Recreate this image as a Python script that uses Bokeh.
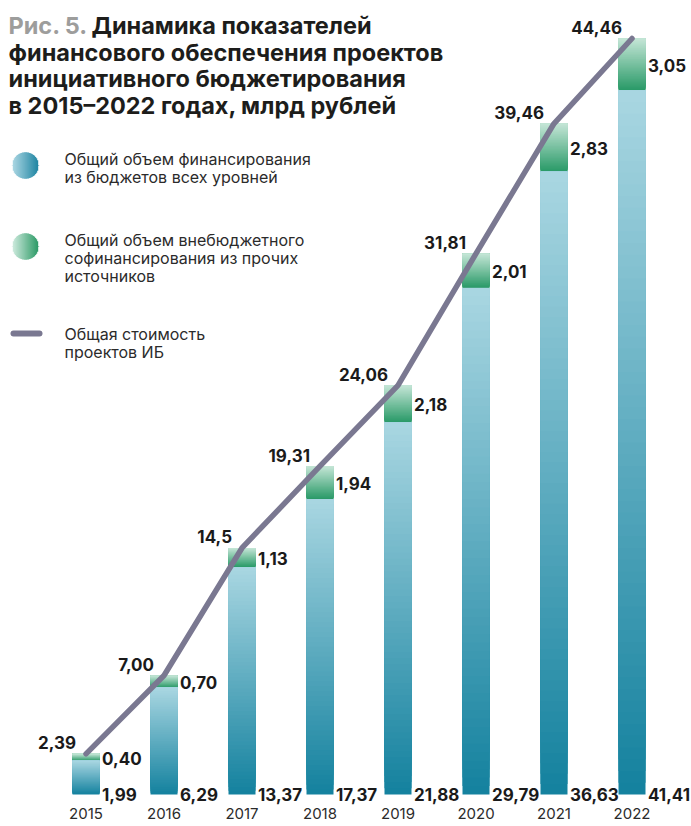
from bokeh.plotting import figure
from bokeh.models import Label, Range1d, ColumnDataSource
from bokeh.embed import file_html
from bokeh.resources import INLINE
from bokeh.core.properties import value
import math

# ---------------- data ----------------
years = ["2015", "2016", "2017", "2018", "2019", "2020", "2021", "2022"]
budget = [1.99, 6.29, 13.37, 17.37, 21.88, 29.79, 36.63, 41.41]
extra = [0.40, 0.70, 1.13, 1.94, 2.18, 2.01, 2.83, 3.05]
total = [2.39, 7.00, 14.5, 19.31, 24.06, 31.81, 39.46, 44.46]
total_labels = ["2,39", "7,00", "14,5", "19,31", "24,06", "31,81", "39,46", "44,46"]

legend_texts = [
    ["Общий объем финансирования", "из бюджетов всех уровней"],
    ["Общий объем внебюджетного", "софинансирования из прочих", "источников"],
    ["Общая стоимость", "проектов ИБ"],
]
title_prefix = "Рис. 5."
title_lines = ["Динамика показателей", "финансового обеспечения проектов",
               "инициативного бюджетирования", "в 2015–2022 годах, млрд рублей"]

# ---------------- style ----------------
FONT = "Inter"
W, H = 691, 826
BLUE_DARK, BLUE_LIGHT = "#15829f", "#a8d6e1"
GREEN_DARK, GREEN_LIGHT = "#2a9a68", "#c4e5d6"
LINE_COL = "#7a7891"
TXT = "#1a1a1a"


def hx(c):
    c = c.lstrip("#")
    return tuple(int(c[i:i + 2], 16) for i in (0, 2, 4))


def mix(c1, c2, t):
    a, b = hx(c1), hx(c2)
    return "#%02x%02x%02x" % tuple(round(a[i] + (b[i] - a[i]) * t) for i in range(3))


def fmt(v):
    return f"{v:.2f}".replace(".", ",")


# layout: bar centres at page x 85.5 + 78*i ; zero at page y 794, maximum at page y 38
px_per_x = 78.0
x0 = -85.5 / px_per_x
x1 = x0 + W / px_per_x
px_per_y = (794 - 38) / max(total)
y0 = -(H - 794) / px_per_y
y1 = 794 / px_per_y

p = figure(width=W, height=H, x_range=Range1d(x0, x1), y_range=Range1d(y0, y1),
           output_backend="svg", toolbar_location=None, min_border=0,
           x_axis_location=None, y_axis_location=None)
p.grid.visible = False
p.outline_line_color = None
p.background_fill_color = "white"
p.border_fill_color = "white"


def dx(sx):
    return x0 + sx / W * (x1 - x0)


def dy(sy):
    return y1 - sy / H * (y1 - y0)


xs = list(range(len(years)))
BW = 27 / px_per_x
N = 60

# gradient bars (overlapping slices, each reaching the segment top)
for k in range(N):
    t = k / (N - 1)
    src_b = ColumnDataSource(dict(
        left=[x - BW / 2 for x in xs], right=[x + BW / 2 for x in xs],
        bottom=[b * k / N for b in budget], top=budget))
    p.quad(left="left", right="right", bottom="bottom", top="top", source=src_b,
           fill_color=mix(BLUE_DARK, BLUE_LIGHT, t), line_color=None)
    src_g = ColumnDataSource(dict(
        left=[x - BW / 2 for x in xs], right=[x + BW / 2 for x in xs],
        bottom=[b + g * k / N for b, g in zip(budget, extra)],
        top=[b + g for b, g in zip(budget, extra)]))
    p.quad(left="left", right="right", bottom="bottom", top="top", source=src_g,
           fill_color=mix(GREEN_DARK, GREEN_LIGHT, t), line_color=None)

# total line
p.line(xs, total, line_color=LINE_COL, line_width=5.5, line_cap="round", line_join="round")

VS = "17px"
p.text(x=xs, y=[0] * 8, text=[fmt(v) for v in budget], x_offset=16, y_offset=0,
       text_font=value(FONT), text_font_style="bold", text_font_size=VS,
       text_color=TXT, text_baseline="alphabetic", text_align="left")
p.text(x=xs, y=[b + g / 2 for b, g in zip(budget, extra)], text=[fmt(v) for v in extra],
       x_offset=16, y_offset=1,
       text_font=value(FONT), text_font_style="bold", text_font_size=VS,
       text_color=TXT, text_baseline="middle", text_align="left")
p.text(x=xs, y=total, text=total_labels, x_offset=-10, y_offset=-11,
       text_font=value(FONT), text_font_style="bold", text_font_size=VS,
       text_color=TXT, text_baseline="alphabetic", text_align="right")
p.text(x=xs, y=[0] * 8, text=years, y_offset=19,
       text_font=value(FONT), text_font_size="15px",
       text_color="#2b2b2b", text_baseline="middle", text_align="center")


# ---------------- title ----------------
def label(text, sx, sy_page, size, color, bold=False, baseline="alphabetic"):
    p.add_layout(Label(x=sx, y=H - sy_page, x_units="screen", y_units="screen",
                       text=text, text_font=FONT, text_font_size=size,
                       text_font_style="bold" if bold else "normal",
                       text_color=color, text_baseline=baseline, text_align="left"))


TS = "23.5px"
label(title_prefix, 8, 25, TS, "#9d9d9c", bold=True)
label(title_lines[0], 91, 25, TS, "#1d1d1b", bold=True)
for i, t in enumerate(title_lines[1:]):
    label(t, 8, 25 + 26.5 * (i + 1), TS, "#1d1d1b", bold=True)


# ---------------- legend ----------------
def grad_circle(cx, cy, r, c_light, c_dark):
    xs_, hs_, cs_ = [], [], []
    for j in range(-r, r + 1):
        xs_.append(dx(cx + j))
        hs_.append(2 * math.sqrt(max(r * r - j * j, 0.0)) + 0.5)
        cs_.append(mix(c_light, c_dark, (j + r) / (2 * r)))
    p.rect(x=xs_, y=[dy(cy)] * len(xs_), width=1.4, height=hs_,
           width_units="screen", height_units="screen", fill_color=cs_, line_color=None)


grad_circle(25, 165, 13, "#aed8e4", "#1f85a2")
grad_circle(25, 246, 13, "#d0ebdf", "#2c9a66")
p.line([dx(13), dx(39)], [dy(333)] * 2, line_color=LINE_COL, line_width=6,
       line_cap="round")

LS = "16px"
legend_y = [158, 239, 333]
for ys, lines in zip(legend_y, legend_texts):
    for k, t in enumerate(lines):
        label(t, 64, ys + 18 * k, LS, "#2b2b2b", baseline="middle")

open("out.html", "w").write(file_html(p, INLINE))
